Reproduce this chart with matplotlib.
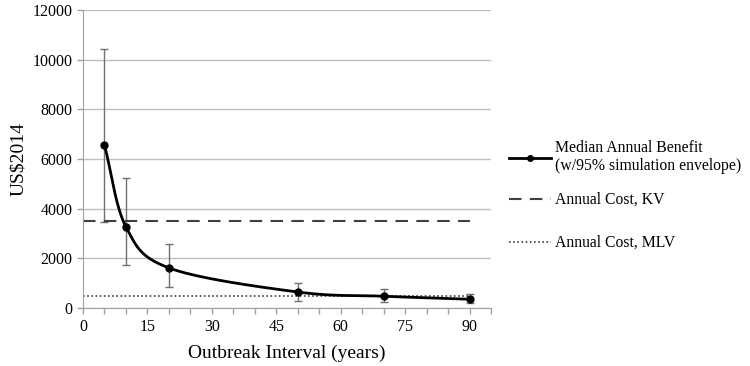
import numpy as np
import matplotlib
matplotlib.use("Agg")
import matplotlib.pyplot as plt
from matplotlib.lines import Line2D

plt.rcParams["font.family"] = ["Liberation Serif", "DejaVu Serif"]

# data
interval = [5, 10, 20, 50, 70, 90]
benefit = [6560, 3270, 1620, 650, 480, 360]
env_low = [3480, 1720, 850, 300, 250, 200]
env_high = [10420, 5220, 2600, 1020, 780, 560]
cost_x = [0, 90]
cost_kv = [3500, 3500]
cost_mlv = [500, 500]


def smooth(x, y, n=40):
    # Catmull-Rom style smoothing, like the spreadsheet's smoothed line
    x = np.asarray(x, float)
    y = np.asarray(y, float)
    px = np.concatenate([[2 * x[0] - x[1]], x, [2 * x[-1] - x[-2]]])
    py = np.concatenate([[2 * y[0] - y[1]], y, [2 * y[-1] - y[-2]]])
    xs, ys = [], []
    t = np.linspace(0, 1, n)
    for i in range(1, len(px) - 2):
        p0, p1, p2, p3 = px[i - 1], px[i], px[i + 1], px[i + 2]
        q0, q1, q2, q3 = py[i - 1], py[i], py[i + 1], py[i + 2]
        c1x, c1y = p1 + (p2 - p0) / 6, q1 + (q2 - q0) / 6
        c2x, c2y = p2 - (p3 - p1) / 6, q2 - (q3 - q1) / 6
        bx = (1 - t) ** 3 * p1 + 3 * (1 - t) ** 2 * t * c1x + 3 * (1 - t) * t ** 2 * c2x + t ** 3 * p2
        by = (1 - t) ** 3 * q1 + 3 * (1 - t) ** 2 * t * c1y + 3 * (1 - t) * t ** 2 * c2y + t ** 3 * q2
        xs.extend(bx)
        ys.extend(by)
    return np.array(xs), np.array(ys)


fig = plt.figure(figsize=(7.5, 3.66), dpi=100)
ax = fig.add_axes([0.1107, 0.158, 0.544, 0.815])

grid_c = "#bfbfbf"
ax.set_axisbelow(True)
ax.yaxis.grid(True, color=grid_c, linewidth=1)

x = np.array(interval)
y = np.array(benefit)
yerr = [y - np.array(env_low), np.array(env_high) - y]
ax.errorbar(x, y, yerr=yerr, fmt="none", ecolor="#707070", elinewidth=1,
            capsize=3, capthick=1, zorder=2)

sx, sy = smooth(x, y)
ax.plot(sx, sy, color="black", linewidth=2, zorder=3)
ax.plot(x, y, "o", color="black", markersize=5, zorder=4)

kv_style = dict(color="#404040", linestyle=(0, (6, 4)), linewidth=1.5)
mlv_style = dict(color="#404040", linestyle=(0, (1, 1.5)), linewidth=1.2)
ax.plot(cost_x, cost_kv, zorder=2, **kv_style)
ax.plot(cost_x, cost_mlv, zorder=2, **mlv_style)

ax.set_xlim(0, 95)
ax.set_ylim(0, 12000)
ax.set_xticks(range(0, 91, 15))
ax.set_xticks(range(0, 96, 5), minor=True)
ax.set_yticks(range(0, 12001, 2000))

for s in ["top", "right"]:
    ax.spines[s].set_visible(False)
for s in ["left", "bottom"]:
    ax.spines[s].set_color("#a0a0a0")
ax.tick_params(axis="both", which="both", direction="out", color="#a0a0a0",
               labelsize=11.5, length=4, width=1)

ax.set_xlabel("Outbreak Interval (years)", fontsize=14, labelpad=7)
ax.set_ylabel("US$2014", fontsize=14)

handles = [
    Line2D([], [], color="black", linewidth=2, marker="o", markersize=4),
    Line2D([], [], **kv_style),
    Line2D([], [], **mlv_style),
]
labels = ["Median Annual Benefit\n(w/95% simulation envelope)",
          "Annual Cost, KV", "Annual Cost, MLV"]
rows = [157, 200, 243]
for h, lab, r in zip(handles, labels, rows):
    fig.legend([h], [lab], loc="center left",
               bbox_to_anchor=(509 / 750, 1 - r / 366),
               frameon=False, fontsize=11.3, handlelength=2.7,
               handletextpad=0.25, borderpad=0, borderaxespad=0)

fig.savefig("out.png", dpi=100)
